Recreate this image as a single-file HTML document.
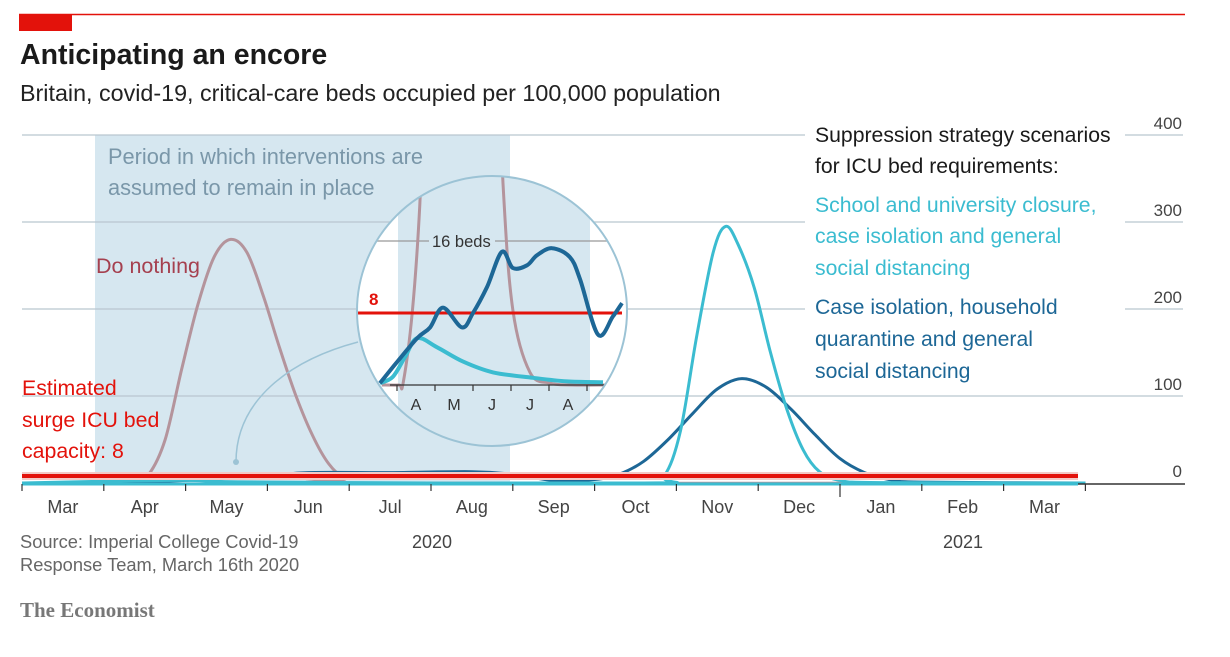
<!DOCTYPE html>
<html><head><meta charset="utf-8"><style>
html,body{margin:0;padding:0;background:#fff;}
svg{display:block;font-family:"Liberation Sans",sans-serif;}
</style></head><body>
<svg id="chart" width="1230" height="657" viewBox="0 0 1230 657">
<defs>
  <clipPath id="circ"><circle cx="492" cy="311" r="135"/></clipPath>
</defs>
<rect width="1230" height="657" fill="#fff"/>
<line x1="19" y1="14.5" x2="1185" y2="14.5" stroke="#e3120b" stroke-width="1.5"/>
<rect x="19" y="14" width="53" height="17" fill="#e3120b"/>
<text x="20" y="64" font-size="28.5" font-weight="bold" fill="#1a1a1a">Anticipating an encore</text>
<text x="20" y="101" font-size="23.3" fill="#222">Britain, covid-19, critical-care beds occupied per 100,000 population</text>

<rect x="95" y="135" width="415" height="348" fill="#d6e7f0"/>
<g id="grid"></g>
<text x="108" y="164" font-size="21.8" fill="#7a97a9">Period in which interventions are</text>
<text x="108" y="195" font-size="21.8" fill="#7a97a9">assumed to remain in place</text>
<text x="96" y="273" font-size="21.5" fill="#a5404f">Do nothing</text>
<g id="series"></g>
<text x="22" y="395" font-size="21.3" fill="#e3120b">Estimated</text>
<text x="22" y="427" font-size="21.3" fill="#e3120b">surge ICU bed</text>
<text x="22" y="458" font-size="21.3" fill="#e3120b">capacity: 8</text>

<text x="815" y="142" font-size="21.2" fill="#1a1a1a">Suppression strategy scenarios</text>
<text x="815" y="173" font-size="21.2" fill="#1a1a1a">for ICU bed requirements:</text>
<text x="815" y="212" font-size="21.2" fill="#3bbcd0">School and university closure,</text>
<text x="815" y="243" font-size="21.2" fill="#3bbcd0">case isolation and general</text>
<text x="815" y="275" font-size="21.2" fill="#3bbcd0">social distancing</text>
<text x="815" y="314" font-size="21.2" fill="#1d6796">Case isolation, household</text>
<text x="815" y="346" font-size="21.2" fill="#1d6796">quarantine and general</text>
<text x="815" y="378" font-size="21.2" fill="#1d6796">social distancing</text>

<g id="xaxis"></g>
<text x="432" y="548" font-size="18" fill="#444" text-anchor="middle">2020</text>
<text x="963" y="548" font-size="18" fill="#444" text-anchor="middle">2021</text>
<text x="20" y="548" font-size="18.3" fill="#666">Source: Imperial College Covid-19</text>
<text x="20" y="571" font-size="18.3" fill="#666">Response Team, March 16th 2020</text>
<text x="20" y="617" font-size="21" fill="#777" font-weight="bold" font-family="Liberation Serif, serif">The Economist</text>

<path d="M358,342 C290,360 236,400 236,462" fill="none" stroke="#9cc3d5" stroke-width="1.5"/>
<circle cx="236" cy="462" r="3" fill="#9cc3d5"/>

<g id="inset"></g>
</svg>
<script>
// ---- data (main chart, months since 1 Mar 2020 ; beds per 100k) ----
const yTicks = [0, 100, 200, 300, 400];
const monthLabels = ["Mar","Apr","May","Jun","Jul","Aug","Sep","Oct","Nov","Dec","Jan","Feb","Mar"];
const capacity = 8;
const doNothingT = [0, 1.35, 1.55, 1.75, 1.95, 2.15, 2.35, 2.55, 2.75, 2.95, 3.15, 3.35, 3.55, 3.75, 3.95, 4.2, 13];
const doNothingV = [0, 0, 10, 50, 130, 205, 260, 280, 265, 215, 155, 100, 55, 22, 5, 0, 0];
const caseIsoT = [0, 1.0, 2.0, 3.0, 3.5, 4.5, 5.5, 6.0, 6.5, 7.0, 7.3, 7.6, 7.9, 8.2, 8.5, 8.8, 9.1, 9.4, 9.7, 10.0, 10.3, 10.6, 11.0, 13];
const caseIsoV = [0, 0.5, 3, 8, 12, 12, 13, 10, 3, 4, 10, 25, 50, 80, 108, 120, 110, 85, 55, 28, 12, 4, 1, 0];
const schoolT = [0, 1.0, 2.0, 3.0, 7.6, 7.85, 8.05, 8.25, 8.45, 8.6, 8.75, 8.95, 9.15, 9.35, 9.55, 9.75, 10.0, 10.5, 13];
const schoolV = [0, 2, 3, 1, 0, 8, 60, 170, 265, 295, 275, 225, 150, 85, 38, 13, 3, 0.5, 0];
// ---- inset data (months since 1 Apr 2020 ; beds) ----
const insetMonths = ["A","M","J","J","A"];
const insetRef = 16;
const inDarkT = [-0.45, -0.03, 0.53, 0.87, 1.21, 1.71, 2.0, 2.37, 2.76, 3.05, 3.42, 3.68, 4.08, 4.55, 4.82, 5.29, 5.68, 5.92];
const inDarkV = [0.2, 2.4, 5.2, 6.4, 8.6, 6.4, 8.0, 10.9, 14.8, 13.0, 13.3, 14.4, 15.2, 14.2, 11.7, 5.6, 7.6, 9.1];
const inCyanT = [-0.45, -0.11, 0.21, 0.53, 1.05, 1.74, 2.53, 3.58, 4.47, 5.42];
const inCyanV = [0.2, 0.9, 3.1, 5.2, 4.2, 2.6, 1.4, 0.8, 0.4, 0.3];
const inNothingT = [-0.4, 0.05, 0.16, 0.4, 0.6, 0.8, 1.0];
const inNothingV = [0, 0, 0.2, 8, 20, 40, 60];
const inNothing2T = [2.5, 2.79, 3.05, 3.5, 4.03, 4.6, 5.5];
const inNothing2V = [50, 22.4, 8.3, 1.4, 0.2, 0, 0];

const NS = "http://www.w3.org/2000/svg";
const x = t => 22 + 81.8 * t;
const y = v => 483 - 0.87 * v;
const ix = t => 397 + 38 * t;
const iy = v => 385 - 9 * v;

function mk(tag, attrs, parent) {
  const e = document.createElementNS(NS, tag);
  for (const k in attrs) e.setAttribute(k, attrs[k]);
  parent.appendChild(e);
  return e;
}
function smooth(ts, vs, fx, fy) {
  const p = ts.map((t, i) => [fx(t), fy(vs[i])]);
  let d = "M" + p[0][0].toFixed(1) + "," + p[0][1].toFixed(1);
  for (let i = 0; i < p.length - 1; i++) {
    const p0 = p[i - 1] || p[i], p1 = p[i], p2 = p[i + 1], p3 = p[i + 2] || p2;
    const c1 = [p1[0] + (p2[0] - p0[0]) / 6, p1[1] + (p2[1] - p0[1]) / 6];
    const c2 = [p2[0] - (p3[0] - p1[0]) / 6, p2[1] - (p3[1] - p1[1]) / 6];
    d += "C" + c1.map(n => n.toFixed(1)) + " " + c2.map(n => n.toFixed(1)) + " " + p2.map(n => n.toFixed(1));
  }
  return d;
}

// grid
const grid = document.getElementById("grid");
yTicks.forEach(v => {
  const yy = y(v);
  if (v === 0) return;
  let l;
  if (v >= 200) {
    l = mk("line", {x1: 22, x2: 805, y1: yy, y2: yy, stroke: "#b9c6cf", "stroke-width": 1.3}, grid);
    
    
    l = mk("line", {x1: 1125, x2: 1183, y1: yy, y2: yy, stroke: "#b9c6cf", "stroke-width": 1.3}, grid);
  } else {
    l = mk("line", {x1: 22, x2: 1183, y1: yy, y2: yy, stroke: "#b9c6cf", "stroke-width": 1.3}, grid);
  }
  
  
});
yTicks.forEach(v => {
  const t = mk("text", {x: 1182, y: y(v) - 6, "font-size": 17, fill: "#444", "text-anchor": "end"}, grid);
  t.textContent = v;
  
  
});

// series
const sg = document.getElementById("series");
let e;
e = mk("path", {d: smooth(doNothingT, doNothingV, x, y), fill: "none", stroke: "#b4949c", "stroke-width": 3}, sg);


e = mk("path", {d: smooth(caseIsoT, caseIsoV, x, y), fill: "none", stroke: "#1d6796", "stroke-width": 3}, sg);


e = mk("path", {d: smooth(schoolT, schoolV, x, y), fill: "none", stroke: "#3bbcd0", "stroke-width": 3}, sg);


e = mk("line", {x1: 22, x2: 1078, y1: y(capacity), y2: y(capacity), stroke: "#f3c9c6", "stroke-width": 8}, sg);


e = mk("line", {x1: 22, x2: 1078, y1: y(capacity), y2: y(capacity), stroke: "#e3120b", "stroke-width": 4}, sg);



// x axis
const xa = document.getElementById("xaxis");
e = mk("line", {x1: 22, x2: 1185, y1: 484, y2: 484, stroke: "#333", "stroke-width": 1.5}, xa);


e = mk("line", {x1: 22, x2: 1078, y1: 484, y2: 484, stroke: "#3bbcd0", "stroke-width": 3}, xa);


for (let i = 0; i <= monthLabels.length; i++) {
  e = mk("line", {x1: x(i), x2: x(i), y1: 484, y2: i === 10 ? 497 : 491, stroke: "#333", "stroke-width": 1.2}, xa);
  
  
}
monthLabels.forEach((m, i) => {
  const t = mk("text", {x: x(i + 0.5), y: 513, "font-size": 18, fill: "#444", "text-anchor": "middle"}, xa);
  t.textContent = m;
  
  
});

// inset
const ins = document.getElementById("inset");
e = mk("circle", {cx: 492, cy: 311, r: 135, fill: "#fff"}, ins);


const ic = mk("g", {"clip-path": "url(#circ)"}, ins);
e = mk("rect", {x: 398, y: 150, width: 192, height: 300, fill: "#d6e7f0"}, ic);


e = mk("line", {x1: 350, x2: 640, y1: iy(insetRef), y2: iy(insetRef), stroke: "#999", "stroke-width": 1.3}, ic);


e = mk("rect", {x: 429, y: iy(insetRef) - 11, width: 66, height: 22, fill: "#d6e7f0"}, ic);


e = mk("text", {x: 432, y: iy(insetRef) + 6, "font-size": 16.5, fill: "#333"}, ic);
e.textContent = insetRef + " beds";


e = mk("path", {d: smooth(inNothingT, inNothingV, ix, iy), fill: "none", stroke: "#b4949c", "stroke-width": 3}, ic);


e = mk("path", {d: smooth(inNothing2T, inNothing2V, ix, iy), fill: "none", stroke: "#b4949c", "stroke-width": 3}, ic);


e = mk("line", {x1: 350, x2: 622, y1: iy(capacity), y2: iy(capacity), stroke: "#e3120b", "stroke-width": 3}, ic);


e = mk("path", {d: smooth(inCyanT, inCyanV, ix, iy), fill: "none", stroke: "#3bbcd0", "stroke-width": 4}, ic);


e = mk("path", {d: smooth(inDarkT, inDarkV, ix, iy), fill: "none", stroke: "#1d6796", "stroke-width": 4, "stroke-linejoin": "round"}, ic);


e = mk("line", {x1: 390, x2: 610, y1: 385, y2: 385, stroke: "#333", "stroke-width": 1.3}, ic);


for (let i = 0; i <= insetMonths.length; i++) {
  e = mk("line", {x1: ix(i), x2: ix(i), y1: 385, y2: 391, stroke: "#333", "stroke-width": 1.2}, ic);
  
  
}
insetMonths.forEach((m, i) => {
  const t = mk("text", {x: ix(i + 0.5), y: 410, "font-size": 16, fill: "#333", "text-anchor": "middle"}, ic);
  t.textContent = m;
  
  
});
e = mk("text", {x: 369, y: iy(capacity) - 8, "font-size": 17, "font-weight": "bold", fill: "#e3120b"}, ic);
e.textContent = capacity;


e = mk("circle", {cx: 492, cy: 311, r: 135, fill: "none", stroke: "#9cc3d5", "stroke-width": 2}, ins);


</script>
</body></html>
